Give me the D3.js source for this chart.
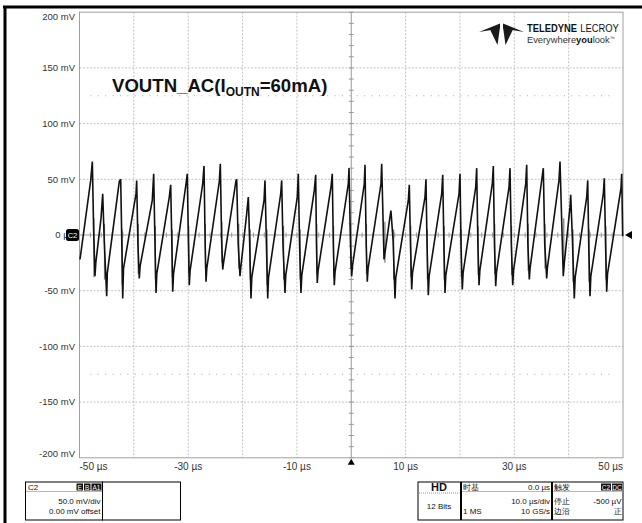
<!DOCTYPE html>
<html><head><meta charset="utf-8">
<script src="https://cdn.jsdelivr.net/npm/d3@7"></script>
<style>
html,body{margin:0;padding:0;background:#fff;}
svg{display:block;}
text{font-family:"Liberation Sans",Arial,sans-serif;}
</style></head>
<body>
<svg id="c" width="642" height="523"></svg>
<script>
// ---- data ----
const xTicks = [-50, -30, -10, 10, 30, 50];
const xTickLabels = ["-50 µs", "-30 µs", "-10 µs", "10 µs", "30 µs", "50 µs"];
const yTicks = [200, 150, 100, 50, 0, -50, -100, -150, -200];
const yTickLabels = ["200 mV", "150 mV", "100 mV", "50 mV", "0 µV", "-50 mV", "-100 mV", "-150 mV", "-200 mV"];
const cursorLevels = [125, -125];
// waveform vertices: [time µs, voltage mV]
const trace = [
[-49.91,-22],[-47.94,49],[-47.64,66],[-47.4,5],[-47.15,-37],[-47.0,-25],[-46.04,15],[-45.73,37],[-45.45,-5],[-45.0,-55],[-44.88,-34],[-42.68,48],[-42.42,50],
[-42.2,-10],[-42.05,-57],[-41.9,-30],[-39.6,37],[-39.48,49],
[-39.25,-8],[-39.0,-39],[-38.85,-28],[-36.61,31],[-36.35,55],
[-36.1,-10],[-35.92,-52],[-35.78,-35],[-33.48,34],[-33.22,45],
[-33.0,-10],[-32.85,-51],[-32.7,-35],[-30.4,46],[-30.17,55],
[-29.95,-8],[-29.8,-45],[-29.65,-32],[-27.33,46],[-27.09,62],
[-26.88,-8],[-26.72,-42],[-26.58,-30],[-24.28,48],[-24.09,64],
[-23.85,-5],[-23.65,-31],[-23.5,-25],[-21.2,49],[-21.08,50],
[-20.8,-8],[-20.47,-37],[-20.3,-28],[-19.24,19],[-18.94,34],[-18.7,-5],[-18.45,-57],[-18.3,-38],[-16.05,31],[-15.87,49],
[-15.6,-10],[-15.37,-57],[-15.22,-38],[-12.98,37],[-12.8,49],
[-12.55,-10],[-12.19,-52],[-12.05,-36],[-9.93,34],[-9.74,55],
[-9.5,-10],[-9.25,-52],[-9.1,-36],[-6.8,40],[-6.54,54],
[-6.4,-8],[-6.25,-43],[-6.1,-32],[-3.73,43],[-3.49,55],
[-3.3,-8],[-3.12,-45],[-2.98,-33],[-0.54,46],[-0.41,60],
[-0.15,-6],[0.08,-37],[0.22,-28],[2.4,46],[2.53,63],
[2.75,-8],[2.95,-42],[3.1,-30],[5.47,46],[5.6,64],
[6.03,-22],[7.0,12],[7.3,22],[7.7,-5],[8.05,-57],[8.2,-38],[10.5,31],[10.68,45],
[10.9,-8],[11.12,-49],[11.27,-34],[13.57,34],[13.75,50],
[13.95,-10],[14.18,-54],[14.33,-37],[16.64,37],[16.83,54],
[17.05,-10],[17.25,-52],[17.4,-36],[19.83,37],[20.01,55],
[20.2,-10],[20.43,-49],[20.58,-34],[22.9,43],[23.08,60],
[23.3,-8],[23.51,-45],[23.66,-32],[25.95,46],[26.14,62],
[26.35,-8],[26.58,-46],[26.73,-33],[29.03,43],[29.21,60],
[29.45,-8],[29.71,-45],[29.86,-32],[32.1,46],[32.28,63],
[32.5,-8],[32.76,-40],[32.9,-30],[35.04,49],[35.34,60],
[35.6,-8],[35.96,-39],[36.1,-29],[38.22,49],[38.41,66],
[39.01,-37],[39.2,-25],[40.25,25],[40.38,36],[40.7,-5],[41.04,-57],[41.2,-38],[43.32,34],[43.51,49],
[43.7,-10],[43.93,-55],[44.08,-37],[46.38,37],[46.56,51],
[46.8,-10],[47.0,-51],[47.15,-35],[49.63,42],[49.76,55],
[49.94,-1]
];
// gray ringing bursts at the falling edges: [time µs, top mV, bottom mV]
const glitches = [
[-47.35,15,-38],[-45.4,10,-40],[-42.15,5,-45],[-39.2,10,-35],[-36.05,8,-40],[-32.95,5,-38],
[-29.9,8,-35],[-26.83,10,-30],[-23.8,12,-25],[-20.7,10,-30],[-18.6,5,-40],[-15.5,5,-45],
[-12.45,8,-40],[-9.4,5,-40],[-6.35,10,-35],[-3.25,8,-38],[-0.1,10,-30],[2.8,10,-35],
[6.2,12,-25],[7.8,5,-40],[10.95,8,-38],[14.0,5,-40],[17.1,8,-40],[20.25,5,-38],
[23.35,8,-36],[26.4,10,-35],[29.5,8,-36],[32.55,10,-32],[35.65,10,-30],[39.1,15,-30],
[40.8,5,-42],[43.75,5,-42],[46.85,8,-40]
];
const titleMain = "VOUTN_AC(I", titleSub = "OUTN", titleEnd = "=60mA)";
const chanBox = {name:"C2", badges:["E","B","A1"], lines:["50.0 mV/div","0.00 mV offset"]};
const hdBox = {title:"HD", sub:"12 Bits"};
const tbBox = {head:"时基", headR:"0.0 µs", r1:"10.0 µs/div", l2:"1 MS", r2:"10 GS/s"};
const trBox = {head:"触发", badges:["C2","DC"], l1:"停止", r1:"-500 µV", l2:"边沿", r2:"正"};

// ---- drawing ----
const svg = d3.select("#c");
const X0 = 79.5, X1 = 623, Y0 = 12.2, Y1 = 457.8;
const x = d3.scaleLinear().domain([-50, 50]).range([X0, X1]);
const y = d3.scaleLinear().domain([-200, 200]).range([Y1, Y0]);

// outer frame
svg.append("rect").attr("x",0).attr("y",0).attr("width",642).attr("height",523).attr("fill","#fff");
svg.append("line").attr("x1",3).attr("x2",642).attr("y1",7).attr("y2",7).attr("stroke","#000").attr("stroke-width",3);
svg.append("line").attr("x1",5).attr("x2",5).attr("y1",6).attr("y2",523).attr("stroke","#000").attr("stroke-width",3);

const grid = svg.append("g");
d3.range(-40, 50, 10).filter(v=>v!==0).forEach(v=>{
  grid.append("line").attr("x1",x(v)).attr("x2",x(v)).attr("y1",Y0).attr("y2",Y1)
   .attr("stroke","#b4b4b4").attr("stroke-width",0.8).attr("stroke-dasharray","2,1.5");
});
d3.range(-150, 200, 50).filter(v=>v!==0).forEach(v=>{
  grid.append("line").attr("x1",X0).attr("x2",X1).attr("y1",y(v)).attr("y2",y(v))
   .attr("stroke","#b4b4b4").attr("stroke-width",0.8).attr("stroke-dasharray","2,1.5");
});
cursorLevels.forEach(v=>{
  grid.append("line").attr("x1",x(-48)).attr("x2",x(48)).attr("y1",y(v)).attr("y2",y(v))
   .attr("stroke","#aaa").attr("stroke-width",1).attr("stroke-dasharray","1,6.4");
});
grid.append("line").attr("x1",x(0)).attr("x2",x(0)).attr("y1",Y0).attr("y2",Y1).attr("stroke","#999").attr("stroke-width",1);
grid.append("line").attr("x1",X0).attr("x2",X1).attr("y1",y(0)).attr("y2",y(0)).attr("stroke","#999").attr("stroke-width",1);
d3.range(-200, 201, 10).forEach(v=>{
  grid.append("line").attr("x1",x(0)-2.5).attr("x2",x(0)+2.5).attr("y1",y(v)).attr("y2",y(v)).attr("stroke","#999");
});
d3.range(-50, 51, 2).forEach(v=>{
  grid.append("line").attr("x1",x(v)).attr("x2",x(v)).attr("y1",y(0)-2.5).attr("y2",y(0)+2.5).attr("stroke","#999");
});
grid.append("rect").attr("x",X0).attr("y",Y0).attr("width",X1-X0).attr("height",Y1-Y0)
  .attr("fill","none").attr("stroke","#a0a0a0").attr("stroke-width",1);

// y labels
yTicks.forEach((v,i)=>{
  const yy = Math.max(17, Math.min(454, y(v)));
  svg.append("text").attr("x",75).attr("y",yy).attr("dy","0.35em").attr("text-anchor","end")
    .attr("font-size",9.5).attr("fill","#333").text(yTickLabels[i]);
});
// x labels
xTicks.forEach((v,i)=>{
  const anchor = i===0 ? "start" : (i===xTicks.length-1 ? "end" : "middle");
  svg.append("text").attr("x",x(v)).attr("y",466).attr("dy","0.35em").attr("text-anchor",anchor)
    .attr("font-size",10).attr("fill","#333").text(xTickLabels[i]);
});

// waveform
svg.append("g").selectAll("line").data(glitches).join("line")
  .attr("x1",d=>x(d[0])).attr("x2",d=>x(d[0])).attr("y1",d=>y(d[1])).attr("y2",d=>y(d[2]))
  .attr("stroke","#777").attr("stroke-width",1.2);
const line = d3.line().x(d=>x(d[0])).y(d=>y(d[1]));
svg.append("path").datum(trace).attr("d",line).attr("fill","none").attr("stroke","#111")
  .attr("stroke-width",1.6).attr("stroke-linejoin","miter").attr("stroke-miterlimit",3);

// markers
const c2 = svg.append("g").attr("transform",`translate(66,${y(0)-6})`);
c2.append("rect").attr("width",13).attr("height",12).attr("rx",2.5).attr("fill","#000");
c2.append("text").attr("x",6.5).attr("y",6).attr("dy","0.35em").attr("text-anchor","middle").attr("font-size",7.5).attr("fill","#fff").text("C2");
svg.append("path").attr("d",`M${X1+2},${y(0)} l7,-4 l0,8 z`).attr("fill","#000");
svg.append("path").attr("d",`M${x(0)},${Y1+1} l-3.5,6 l7,0 z`).attr("fill","#000");

// title
const t = svg.append("text").attr("x",112).attr("y",92).attr("font-size",18.6).attr("font-weight","bold").attr("fill","#111");
t.append("tspan").text(titleMain);
t.append("tspan").attr("font-size",12).attr("dy",4).text(titleSub);
t.append("tspan").attr("dy",-4).text(titleEnd);

// logo
const lg = svg.append("g").attr("transform","translate(479,23)").attr("fill","#1a1a1a");
lg.append("path").attr("d","M0,9 L21,0.5 L21,5.5 Z");
lg.append("path").attr("d","M45,9 L24,0.5 L24,5.5 Z");
lg.append("path").attr("d","M11,6.5 L21,4 L18.5,22 Z");
lg.append("path").attr("d","M34,6.5 L24,4 L26.5,22 Z");
const lgt = svg.append("g").attr("transform","translate(527,32) scale(0.856,1)");
lgt.append("text").attr("x",0).attr("y",0).attr("font-size",11).attr("font-weight","bold").attr("fill","#111").text("TELEDYNE");
lgt.append("text").attr("x",62.2).attr("y",0).attr("font-size",11).attr("fill","#111").text("LECROY");
const lt2 = svg.append("text").attr("x",527).attr("y",42.8).attr("font-size",9.3).attr("fill","#333");
lt2.append("tspan").text("Everywhere");
lt2.append("tspan").attr("font-weight","bold").attr("fill","#111").text("you");
lt2.append("tspan").text("look");
lt2.append("tspan").attr("font-size",5).attr("dy",-3).text("™");

// bottom info boxes
function box(x0, x1){ svg.append("rect").attr("x",x0).attr("y",482).attr("width",x1-x0).attr("height",38).attr("fill","#fff").attr("stroke","#000").attr("stroke-width",1); }
function txt(xx, yy, s, anchor, size, weight, fill){
  svg.append("text").attr("x",xx).attr("y",yy).attr("text-anchor",anchor||"start").attr("font-size",size||8)
   .attr("font-weight",weight||"normal").attr("fill",fill||"#111").text(s);
}
function sep(x0,x1,color){ svg.append("line").attr("x1",x0+1).attr("x2",x1-1).attr("y1",491.5).attr("y2",491.5).attr("stroke",color||"#777").attr("stroke-dasharray","1,1"); }
function badge(xr, s){ const w = s.length>1? 10: 6.5;
  svg.append("rect").attr("x",xr-w).attr("y",483.5).attr("width",w).attr("height",7).attr("fill","#111");
  svg.append("text").attr("x",xr-w/2).attr("y",489.5).attr("text-anchor","middle").attr("font-size",6.5).attr("fill","#fff").text(s); return xr-w-1; }
box(25.5,102.5); box(102.5,180.5);
txt(28,489.5,chanBox.name); sep(25.5,102.5);
let bx = 101.5; chanBox.badges.slice().reverse().forEach(s=>{ bx = badge(bx,s); });
txt(100.5,503.5,chanBox.lines[0],"end"); txt(100.5,513.5,chanBox.lines[1],"end");

box(418,460.5);
txt(439,491,hdBox.title,"middle",11,"bold");
svg.append("line").attr("x1",419).attr("x2",459.5).attr("y1",493).attr("y2",493).attr("stroke","#5c5").attr("stroke-dasharray","1,1");
txt(439,509,hdBox.sub,"middle",8);

box(461.5,551.5);
txt(463,489.5,tbBox.head); txt(550,490,tbBox.headR,"end"); sep(461.5,551.5);
txt(550,503.5,tbBox.r1,"end"); txt(463,513.5,tbBox.l2); txt(550,513.5,tbBox.r2,"end");

box(552.5,623);
txt(554,489.5,trBox.head); sep(552.5,623);
let bx2 = 622; trBox.badges.slice().reverse().forEach(s=>{ bx2 = badge(bx2,s); });
txt(554,503.5,trBox.l1); txt(621.5,503.5,trBox.r1,"end");
txt(554,514,trBox.l2); txt(621.5,514,trBox.r2,"end");
</script>
</body></html>
